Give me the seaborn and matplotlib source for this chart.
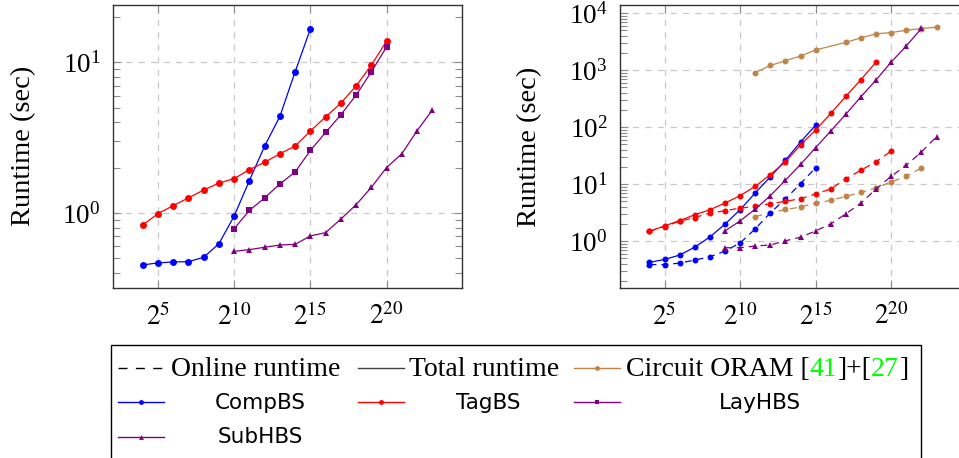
import numpy as np
import pandas as pd
import matplotlib
matplotlib.use("Agg")
import matplotlib.pyplot as plt
import seaborn as sns
from matplotlib.lines import Line2D
from matplotlib.patches import Rectangle
from matplotlib.ticker import FixedLocator, NullLocator, LogLocator, LogFormatterMathtext, NullFormatter

# x values are log2 of the input size, y values are runtimes in seconds

# left panel
left_comp_exp = [4, 5, 6, 7, 8, 9, 10, 11, 12, 13, 14, 15]
left_comp = [0.453, 0.467, 0.474, 0.476, 0.509, 0.626, 0.955, 1.64, 2.78, 4.37, 8.63, 16.6]
left_tag_exp = [4, 5, 6, 7, 8, 9, 10, 11, 12, 13, 14, 15, 16, 17, 18, 19, 20]
left_tag = [0.833, 0.99, 1.12, 1.26, 1.42, 1.58, 1.69, 1.94, 2.17, 2.47, 2.78, 3.49, 4.34, 5.35, 6.96, 9.55, 13.8]
left_lay_exp = [10, 11, 12, 13, 14, 15, 16, 17, 18, 19, 20]
left_lay = [0.787, 1.04, 1.26, 1.56, 1.87, 2.60, 3.42, 4.48, 6.04, 8.63, 12.6]
left_sub_exp = [10, 11, 12, 13, 14, 15, 16, 17, 18, 19, 20, 21, 22, 23]
left_sub = [0.557, 0.572, 0.593, 0.614, 0.620, 0.705, 0.741, 0.912, 1.135, 1.48, 2.00, 2.47, 3.51, 4.81]

# right panel: total (solid) and online (dashed)
right_comp_exp = [4, 5, 6, 7, 8, 9, 10, 11, 12, 13, 14, 15]
right_comp_total = [0.426, 0.48, 0.573, 0.79, 1.19, 2.0, 3.57, 7.05, 13.5, 26.5, 55.2, 109]
right_comp_online = [0.39, 0.39, 0.414, 0.468, 0.535, 0.674, 0.933, 1.65, 3.16, 5.52, 10.3, 19.5]
right_tag_total_exp = [4, 5, 6, 7, 8, 9, 10, 11, 12, 13, 14, 15, 16, 17, 18, 19]
right_tag_total = [1.50, 1.86, 2.31, 2.92, 3.57, 4.69, 6.31, 9.22, 14.8, 24.9, 48.9, 90, 175, 350, 689, 1396]
right_tag_online_exp = [4, 5, 6, 7, 8, 9, 10, 11, 12, 13, 14, 15, 16, 17, 18, 19, 20]
right_tag_online = [1.50, 1.81, 2.25, 2.61, 3.13, 3.43, 3.83, 4.08, 4.56, 5.01, 5.59, 6.77, 8.28, 12.5, 17.7, 24.9, 38.3]
right_sub_total_exp = [9, 10, 11, 12, 13, 14, 15, 16, 17, 18, 19, 20, 21, 22]
right_sub_total = [1.52, 2.28, 3.67, 6.3, 11.8, 22.3, 44, 86, 170, 344, 679, 1396, 2679, 5420]
right_sub_online_exp = [9, 10, 11, 12, 13, 14, 15, 16, 17, 18, 19, 20, 21, 22, 23]
right_sub_online = [0.77, 0.77, 0.826, 0.86, 1.02, 1.18, 1.52, 2.02, 3.03, 4.69, 8.28, 13.8, 21.7, 36.8, 68.8]
oram_total_exp = [11, 12, 13, 14, 15, 17, 18, 19, 20, 21, 22, 23]
oram_total = [914, 1216, 1472, 1782, 2275, 3097, 3707, 4363, 4597, 5047, 5410, 5705]
oram_online_exp = [11, 13, 14, 15, 16, 17, 18, 19, 20, 21, 22]
oram_online = [2.72, 3.61, 3.98, 4.69, 5.21, 6.14, 7.22, 8.63, 11.0, 13.8, 19.5]

xtick_exp = [5, 10, 15, 20]

BLUE = "#0000ff"
RED = "#ff0000"
PURPLE = "#800080"
TAN = "#c08448"
GREEN = "#00ff00"

plt.rcParams["font.family"] = ["Liberation Serif", "DejaVu Serif"]
plt.rcParams["mathtext.fontset"] = "stix"

W, H = 959, 458
fig = plt.figure(figsize=(W / 100, H / 100), dpi=100)


def fx(x):
    return x / W


def fy(y):
    return 1 - y / H


def px_box(x0, y0, x1, y1):
    return [fx(x0), fy(y1), (x1 - x0) / W, (y1 - y0) / H]


ax_l = fig.add_axes(px_box(113, 5, 462, 288))
ax_r = fig.add_axes(px_box(620, 5, 966, 288))


def draw(ax, exp, vals, color, marker, ms, dashed=False):
    df = pd.DataFrame({"n": np.power(2.0, exp), "t": vals})
    ls = (0, (5.5, 4)) if dashed else "-"
    sns.lineplot(data=df, x="n", y="t", ax=ax, color=color, marker=marker,
                 markersize=ms, markeredgewidth=0, linewidth=0.9,
                 linestyle=ls, legend=False)


def style_axis(ax, ylim, ymaj):
    ax.set_xscale("log", base=2)
    ax.set_yscale("log")
    ax.set_xlim(2 ** 2.05, 2 ** 24.95)
    ax.set_ylim(*ylim)
    ax.set_xticks([2.0 ** e for e in xtick_exp], [rf"$2^{{{e}}}$" for e in xtick_exp])
    ax.xaxis.set_minor_locator(NullLocator())
    ax.yaxis.set_major_locator(FixedLocator(ymaj))
    ax.yaxis.set_major_formatter(LogFormatterMathtext())
    ax.yaxis.set_minor_locator(LogLocator(base=10, subs=np.arange(2, 10), numticks=30))
    ax.yaxis.set_minor_formatter(NullFormatter())
    ax.tick_params(which="both", direction="in", top=True, right=True,
                   color="#8c8c8c", labelsize=19.5, labelcolor="black")
    ax.tick_params(which="major", length=6, width=0.8)
    ax.tick_params(which="minor", length=5, width=0.8)
    ax.tick_params(axis="y", pad=9)
    ax.tick_params(axis="x", pad=11)
    ax.grid(True, which="major", color="#c8c8c8", lw=0.9, ls=(0, (5, 5)))
    ax.set_axisbelow(True)
    for s in ax.spines.values():
        s.set_color("#333333")
        s.set_linewidth(1.0)
    ax.set_xlabel("")
    ax.set_ylabel("")


# left panel
draw(ax_l, left_comp_exp, left_comp, BLUE, "o", 5)
draw(ax_l, left_tag_exp, left_tag, RED, "o", 5)
draw(ax_l, left_lay_exp, left_lay, PURPLE, "s", 5)
draw(ax_l, left_sub_exp, left_sub, PURPLE, "^", 4.5)
style_axis(ax_l, (10 ** -0.497, 10 ** 1.379), [1, 10])

# right panel
draw(ax_r, oram_total_exp, oram_total, TAN, "o", 4.3)
draw(ax_r, oram_online_exp, oram_online, TAN, "o", 4.3, dashed=True)
draw(ax_r, right_comp_exp, right_comp_total, BLUE, "o", 4.3)
draw(ax_r, right_comp_exp, right_comp_online, BLUE, "o", 4.3, dashed=True)
draw(ax_r, right_tag_total_exp, right_tag_total, RED, "o", 4.3)
draw(ax_r, right_tag_online_exp, right_tag_online, RED, "o", 4.3, dashed=True)
draw(ax_r, right_sub_total_exp, right_sub_total, PURPLE, "^", 4.3)
draw(ax_r, right_sub_online_exp, right_sub_online, PURPLE, "^", 4.8, dashed=True)
style_axis(ax_r, (10 ** -0.82, 10 ** 4.146), [1, 10, 100, 1000, 10000])

# y labels
fig.text(fx(24), fy(146), "Runtime (sec)", rotation=90, ha="center", va="center", fontsize=20.5)
fig.text(fx(530), fy(147), "Runtime (sec)", rotation=90, ha="center", va="center", fontsize=20.5)

# legend, drawn by hand so rows 2-3 can keep the centred labels
fig.add_artist(Rectangle((fx(110.5), fy(480)), fx(921) - fx(110.5), fy(345) - fy(480),
                         transform=fig.transFigure, fill=False, lw=1.0, ec="black"))


def handle(x0, y, color, ls="-", marker=None, ms=4):
    fig.add_artist(Line2D([fx(x0), fx(x0 + 46)], [fy(y), fy(y)], transform=fig.transFigure,
                          color=color, lw=1.0, ls=ls))
    if marker:
        fig.add_artist(Line2D([fx(x0 + 23)], [fy(y)], transform=fig.transFigure, color=color,
                              marker=marker, ms=ms, mew=0, ls="none"))


serif_size = 20
sans = ["DejaVu Sans"]
sans_size = 15.5
row1 = fy(376)

handle(118, 367.5, "black", ls=(0, (6.5, 6)))
fig.text(fx(171), row1, "Online runtime", fontsize=serif_size, va="baseline")
handle(358, 367.5, "#404040")
fig.text(fx(409), row1, "Total runtime", fontsize=serif_size, va="baseline")
handle(574, 367.5, TAN, marker="o", ms=3.5)
prev = fig.text(fx(626), row1, "Circuit ORAM [", fontsize=serif_size, va="baseline")
for piece, col in [("41", GREEN), ("]+[", "black"), ("27", GREEN), ("]", "black")]:
    prev = fig.add_artist(matplotlib.text.Annotation(
        piece, xy=(1, row1), xycoords=(prev, "figure fraction"),
        fontsize=serif_size, va="baseline", ha="left", color=col))

handle(118, 401.5, BLUE, marker="o", ms=3.5)
fig.text(fx(260.5), fy(409), "CompBS", fontsize=sans_size, family=sans, ha="center", va="baseline")
handle(358, 401.5, RED, marker="o", ms=3.5)
fig.text(fx(488.5), fy(409), "TagBS", fontsize=sans_size, family=sans, ha="center", va="baseline")
handle(574, 401.5, PURPLE, marker="s", ms=3.5)
fig.text(fx(760), fy(409), "LayHBS", fontsize=sans_size, family=sans, ha="center", va="baseline")
handle(118, 436.5, PURPLE, marker="^", ms=3.5)
fig.text(fx(260), fy(443), "SubHBS", fontsize=sans_size, family=sans, ha="center", va="baseline")

fig.savefig("out.png", dpi=100)
